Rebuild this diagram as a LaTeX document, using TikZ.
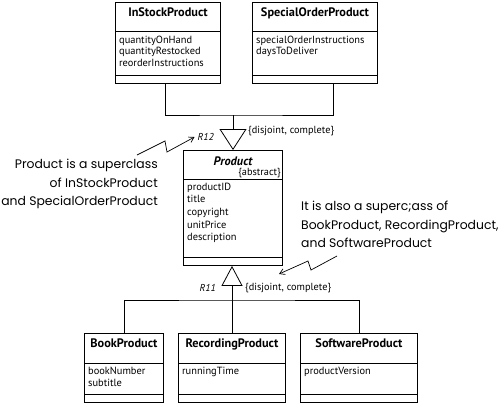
\documentclass[tikz,border=0pt]{standalone}
\usepackage{fontspec}
\setmainfont{PT Sans}
\newfontfamily\handfont{Poppins}
\usetikzlibrary{arrows.meta,calc}

\tikzset{
  classbox/.style={draw, line width=0.9pt, anchor=north west, inner sep=0pt},
  divider/.style={line width=0.9pt},
  classname/.style={font=\bfseries\fontsize{12.3}{14}\selectfont, anchor=base, inner sep=0pt},
  attrs/.style={font=\fontsize{10.4}{11.6}\selectfont, align=left, anchor=north west, inner sep=0pt},
  relname/.style={font=\itshape\fontsize{10}{12}\selectfont, inner sep=0pt},
  constraint/.style={font=\fontsize{10.3}{12}\selectfont, inner sep=0pt},
  note/.style={font=\handfont\fontsize{12.4}{18.5}\selectfont, inner sep=0pt},
  link/.style={line width=0.8pt},
  squiggle/.style={line width=0.7pt, -{Straight Barb[length=5pt,width=6pt]}}
}

\begin{document}
\begin{tikzpicture}[x=1pt,y=-1pt]
\useasboundingbox (0,0) rectangle (500,405);

% superclass
\node[classbox, minimum width=99, minimum height=115] (product) at (183,150) {};
\node[classname, font=\bfseries\itshape\fontsize{12.3}{14}\selectfont] (product-t) at (product.north |- 0,165.5) {Product};
\node[constraint, anchor=base east] (product-s) at ($(product.east |- 0,175.5)+(-2,0)$) {\{abstract\}};
\draw[divider] (product.west |- 0,179) -- (product.east |- 0,179);
\node[attrs, font=\fontsize{10.4}{12.7}\selectfont] (product-a) at ($(product.west |- 0,182.5)+(4,0)$)
  {productID\\title\\copyright\\unitPrice\\description};
\draw[divider] (product.west |- 0,257) -- (product.east |- 0,257);

% R12 subclasses
\node[classbox, minimum width=105, minimum height=81] (instock) at (115,2) {};
\node[classname] (instock-t) at (instock.north |- 0,16.5) {InStockProduct};
\draw[divider] (instock.west |- 0,31) -- (instock.east |- 0,31);
\node[attrs] (instock-a) at ($(instock.west |- 0,35.5)+(4,0)$)
  {quantityOnHand\\quantityRestocked\\reorderInstructions};
\draw[divider] (instock.west |- 0,75) -- (instock.east |- 0,75);

\node[classbox, minimum width=125, minimum height=81] (special) at (252,2) {};
\node[classname] (special-t) at (special.north |- 0,16.5) {SpecialOrderProduct};
\draw[divider] (special.west |- 0,31) -- (special.east |- 0,31);
\node[attrs] (special-a) at ($(special.west |- 0,35.5)+(4,0)$)
  {specialOrderInstructions\\daysToDeliver};
\draw[divider] (special.west |- 0,75) -- (special.east |- 0,75);

% R11 subclasses
\node[classbox, minimum width=79, minimum height=69] (book) at (84,333) {};
\node[classname] (book-t) at (book.north |- 0,347.5) {BookProduct};
\draw[divider] (book.west |- 0,363) -- (book.east |- 0,363);
\node[attrs] (book-a) at ($(book.west |- 0,367)+(4,0)$) {bookNumber\\subtitle};
\draw[divider] (book.west |- 0,394) -- (book.east |- 0,394);

\node[classbox, minimum width=107, minimum height=69] (recording) at (178,333) {};
\node[classname] (recording-t) at (recording.north |- 0,347.5) {RecordingProduct};
\draw[divider] (recording.west |- 0,363) -- (recording.east |- 0,363);
\node[attrs] (recording-a) at ($(recording.west |- 0,367)+(4,0)$) {runningTime};
\draw[divider] (recording.west |- 0,394) -- (recording.east |- 0,394);

\node[classbox, minimum width=117, minimum height=69] (software) at (300,333) {};
\node[classname] (software-t) at (software.north |- 0,347.5) {SoftwareProduct};
\draw[divider] (software.west |- 0,363) -- (software.east |- 0,363);
\node[attrs] (software-a) at ($(software.west |- 0,367)+(4,0)$) {productVersion};
\draw[divider] (software.west |- 0,394) -- (software.east |- 0,394);

% generalizations
\coordinate (j12) at (233,115);
\draw[link] (instock.south -| 165,0) |- (j12) -| (special.south -| 333,0);
\draw[link, -{Triangle[open,length=21pt,width=27pt]}] (j12) -- (j12 |- product.north);
\node[relname, anchor=east] (r12) at (214,137) {R12};
\node[constraint, anchor=west] (c12) at (248,131) {\{disjoint, complete\}};

\coordinate (j11) at (232,300);
\draw[link] (book.north) |- (j11) -| (software.north);
\draw[link] (recording.north) -- (recording.north |- j11);
\draw[link, -{Triangle[open,length=20pt,width=21pt]}] (j11) -- (j11 |- product.south);
\node[relname, anchor=east] (r11) at (216,288) {R11};
\node[constraint, anchor=west] (c11) at (245,288) {\{disjoint, complete\}};

% notes
\node[note, align=right, anchor=north east] (note12) at (158,159)
  {Product is a superclass\\of InStockProduct\\and SpecialOrderProduct};
\coordinate (s12) at (137,155);
\draw[squiggle] (s12) -- (165,141) -- (167,152) -- ($(r12.west)+(-3,0)$);

\node[note, align=left, anchor=north west] (note11) at (301,201)
  {It is also a superc;ass of\\BookProduct, RecordingProduct,\\and SoftwareProduct};
\coordinate (s11) at (337,256);
\coordinate (e11) at (279,274);
\draw[squiggle] (s11) -- (311,270) -- (308,261) -- (e11);
\end{tikzpicture}
\end{document}
